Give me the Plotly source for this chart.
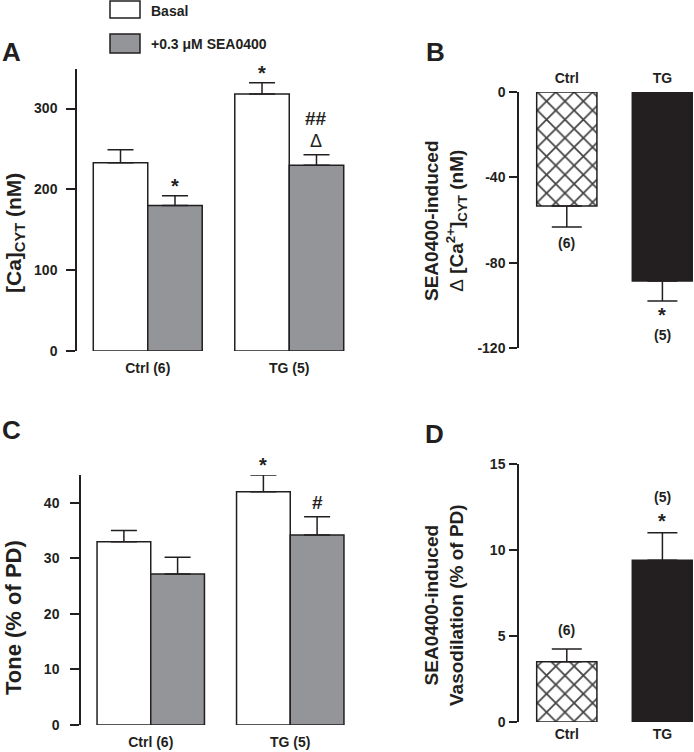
import plotly.graph_objects as go

W, H = 694, 752
DARK = "#231f20"
GRAY = "#939598"
FONT = "Liberation Sans, Arial, sans-serif"

# ---- data ----
groups = ["Ctrl (6)", "TG (5)"]
ca_basal = [233, 318]
ca_basal_err = [16, 14]
ca_sea = [180, 230]
ca_sea_err = [12, 13]

tone_basal = [33.0, 42.0]
tone_basal_err = [2.0, 3.0]
tone_sea = [27.2, 34.2]
tone_sea_err = [3.0, 3.3]

delta_cats = ["Ctrl", "TG"]
delta_ca = [-53.4, -88.6]
delta_ca_err = [9.9, 9.4]

vaso_cats = ["Ctrl", "TG"]
vaso = [3.5, 9.4]
vaso_err = [0.74, 1.6]

ca_ticks = [0, 100, 200, 300]
delta_ticks = [0, -40, -80, -120]
delta_ticktext = ["0", "-40", "-80", "-120"]
tone_ticks = [0, 10, 20, 30, 40]
vaso_ticks = [0, 5, 10, 15]


def xd(a, b):
    return [a / W, b / W]


def yd(top, bottom):
    return [1 - bottom / H, 1 - top / H]


def px_x(v):
    return v / W


def px_y(v):
    return 1 - v / H


def err(arr, down=False, width=13):
    z = [0] * len(arr)
    return dict(type="data", symmetric=False,
                array=z if down else arr, arrayminus=arr if down else z,
                color=DARK, thickness=1.5, width=width)


fig = go.Figure()
line = dict(color=DARK, width=1.5)

# Panel A
fig.add_trace(go.Bar(x=groups, y=ca_basal, marker=dict(color="white", line=line),
                     error_y=err(ca_basal_err), xaxis="x", yaxis="y", showlegend=False))
fig.add_trace(go.Bar(x=groups, y=ca_sea, marker=dict(color=GRAY, line=line),
                     error_y=err(ca_sea_err), xaxis="x", yaxis="y", showlegend=False))
# Panel C
fig.add_trace(go.Bar(x=groups, y=tone_basal, marker=dict(color="white", line=line),
                     error_y=err(tone_basal_err), xaxis="x3", yaxis="y3", showlegend=False))
fig.add_trace(go.Bar(x=groups, y=tone_sea, marker=dict(color=GRAY, line=line),
                     error_y=err(tone_sea_err), xaxis="x3", yaxis="y3", showlegend=False))

pattern = dict(shape=["x", ""], fgcolor=DARK, fillmode="overlay",
               fgopacity=1, size=13, solidity=0.25)
# Panel B
fig.add_trace(go.Bar(x=delta_cats, y=delta_ca, width=0.63,
                     marker=dict(color=["white", DARK], line=line, pattern=pattern),
                     error_y=err(delta_ca_err, down=True, width=15),
                     xaxis="x2", yaxis="y2", showlegend=False))
# Panel D
fig.add_trace(go.Bar(x=vaso_cats, y=vaso, width=0.63,
                     marker=dict(color=["white", DARK], line=line, pattern=pattern),
                     error_y=err(vaso_err, width=15),
                     xaxis="x4", yaxis="y4", showlegend=False))

tickfont = dict(family=FONT, size=14, color=DARK, weight="bold")


def yax(domain, rng, ticks, xanchor, standoff, ticklen, ticktext=None):
    d = dict(domain=domain, range=rng, tickvals=ticks, anchor=xanchor,
             showline=True, linecolor=DARK, linewidth=1.5, ticks="outside",
             ticklen=ticklen, tickwidth=1.5, tickcolor=DARK, showgrid=False,
             zeroline=False, tickfont=tickfont, ticklabelstandoff=standoff,
             automargin=False, fixedrange=True)
    if ticktext:
        d["ticktext"] = ticktext
    return d


def xax(domain, rng, yanchor, side="bottom", standoff=0):
    return dict(domain=domain, range=rng, anchor=yanchor, side=side, type="category",
                showline=False, ticks="", showgrid=False, zeroline=False,
                tickfont=tickfont, ticklabelstandoff=standoff, automargin=False,
                fixedrange=True)


fig.update_layout(
    width=W, height=H, margin=dict(l=0, r=0, t=0, b=0, autoexpand=False),
    paper_bgcolor="white", plot_bgcolor="rgba(0,0,0,0)",
    barmode="group", bargap=0.23, bargroupgap=0, showlegend=False,
    xaxis=xax(xd(77, 360), [-0.5, 1.5], "y", standoff=7),
    yaxis=yax(yd(69, 351), [0, 349], ca_ticks, "x", 6, 9),
    xaxis2=xax(xd(519, 693), [-0.5, 1.32], "y2", side="top", standoff=5),
    yaxis2=yax(yd(92, 348), [-120, 0], delta_ticks, "x2", 1, 8, delta_ticktext),
    xaxis3=xax(xd(81, 360), [-0.5, 1.5], "y3", standoff=7),
    yaxis3=yax(yd(475, 725), [0, 45], tone_ticks, "x3", 8, 9),
    xaxis4=xax(xd(519, 693), [-0.5, 1.32], "y4", standoff=2),
    yaxis4=yax(yd(464, 722), [0, 15], vaso_ticks, "x4", 1, 8),
    font=dict(family=FONT, color=DARK),
)

ann = []
bold = dict(family=FONT, color=DARK, weight="bold")


def t(text, x, y, xref, yref, size, yshift=0, yanchor="middle", font=None, **kw):
    f = dict(bold)
    if font:
        f.update(font)
    f["size"] = size
    ann.append(dict(text=text, x=x, y=y, xref=xref, yref=yref, showarrow=False,
                    xanchor="center", yanchor=yanchor, yshift=yshift, font=f, **kw))


off = (1 - 0.23) / 4
# A annotations
t("*", 0 + off, ca_sea[0] + ca_sea_err[0], "x", "y", 20, yshift=10)
t("*", 1 - off, ca_basal[1] + ca_basal_err[1], "x", "y", 20, yshift=10)
t("##", 1 + off, ca_sea[1] + ca_sea_err[1], "x", "y", 19, yshift=36)
t("Δ", 1 + off, ca_sea[1] + ca_sea_err[1], "x", "y", 18, yshift=14,
  font=dict(weight="normal"))
# C annotations
t("*", 1 - off, tone_basal[1] + tone_basal_err[1], "x3", "y3", 20, yshift=10)
t("#", 1 + off, tone_sea[1] + tone_sea_err[1], "x3", "y3", 19, yshift=14)
# B annotations
t("(6)", 0, delta_ca[0] - delta_ca_err[0], "x2", "y2", 14, yshift=-16)
t("*", 1, delta_ca[1] - delta_ca_err[1], "x2", "y2", 20, yshift=-14)
t("(5)", 1, delta_ca[1] - delta_ca_err[1], "x2", "y2", 14, yshift=-34)
# D annotations
t("(6)", 0, vaso[0] + vaso_err[0], "x4", "y4", 14, yshift=19)
t("*", 1, vaso[1] + vaso_err[1], "x4", "y4", 20, yshift=12)
t("(5)", 1, vaso[1] + vaso_err[1], "x4", "y4", 14, yshift=36)

# axis titles
t("[Ca]<sub>CYT</sub> (nM)", px_x(15), px_y(233), "paper", "paper", 21, textangle=-90)
t("Tone (% of PD)", px_x(13), px_y(618), "paper", "paper", 22, textangle=-90)
t("SEA0400-induced<br><span style='font-weight:normal'>Δ</span> [Ca<sup>2+</sup>]<sub>CYT</sub> (nM)",
  px_x(445), px_y(221), "paper", "paper", 19, textangle=-90)
t("SEA0400-induced<br>Vasodilation (% of PD)",
  px_x(444), px_y(605), "paper", "paper", 19, textangle=-90)

# panel letters
for L, cx, cy in [("A", 11, 52), ("B", 435, 52), ("C", 11, 430), ("D", 434, 434)]:
    t(L, px_x(cx), px_y(cy), "paper", "paper", 26)

# legend
shapes = []
for (y0, y1, col) in [(1, 18, "white"), (34, 53, GRAY)]:
    shapes.append(dict(type="rect", xref="paper", yref="paper",
                       x0=px_x(110), x1=px_x(140), y0=px_y(y1), y1=px_y(y0),
                       fillcolor=col, line=dict(color=DARK, width=1.5)))
for txt, cy in [("Basal", 11), ("+0.3 μM SEA0400", 44)]:
    ann.append(dict(text=txt, x=px_x(149), y=px_y(cy), xref="paper", yref="paper",
                    showarrow=False, xanchor="left", yanchor="middle",
                    font=dict(bold, size=14)))

fig.update_layout(annotations=ann, shapes=shapes)
fig.write_html("out.html", config={"displayModeBar": False},
               post_script="document.body.style.margin='0px';"
                           "document.body.style.overflow='hidden';")
